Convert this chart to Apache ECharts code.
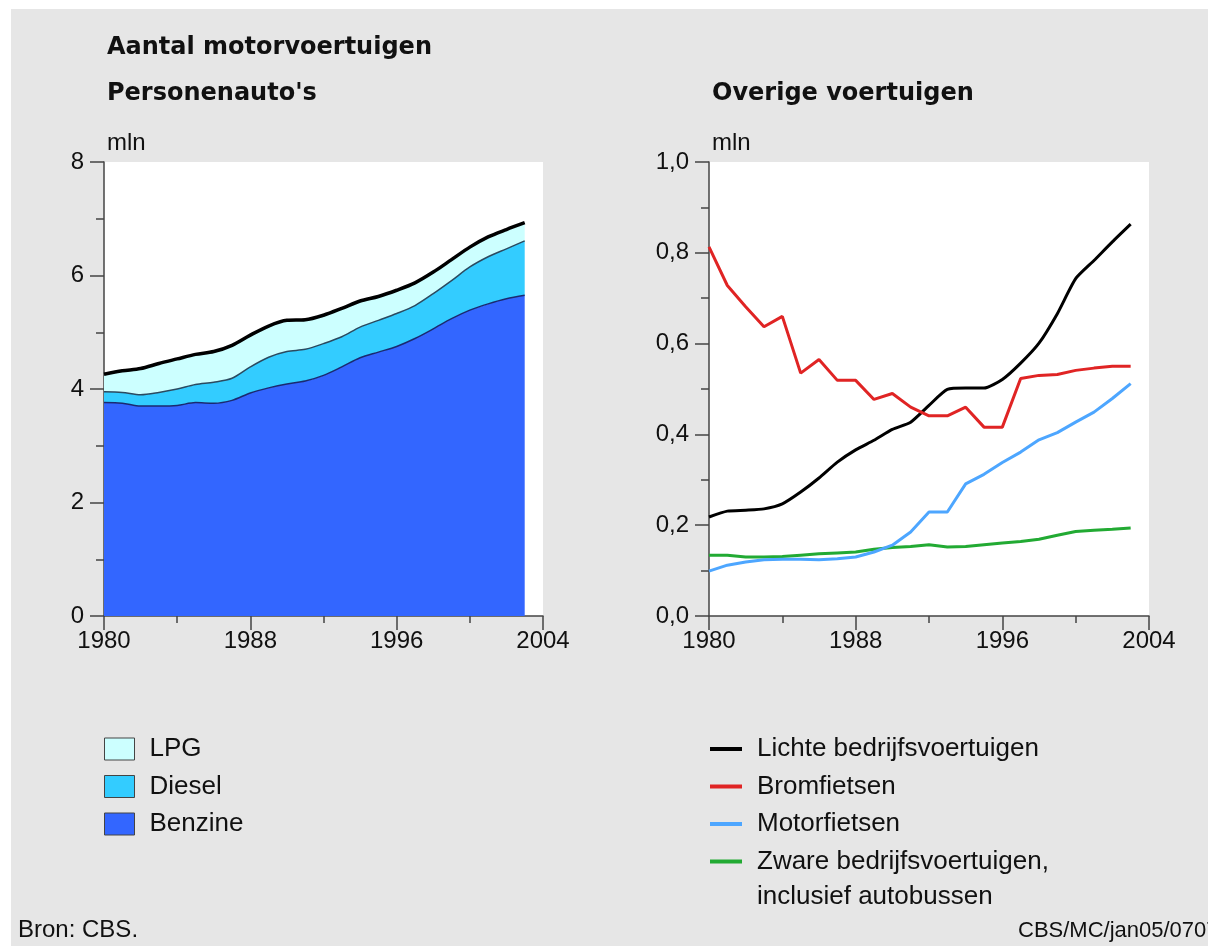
<!DOCTYPE html>
<html>
<head>
<meta charset="utf-8">
<script src="https://cdn.jsdelivr.net/npm/echarts@6/dist/echarts.min.js"></script>
<style>
  html, body { margin: 0; padding: 0; background: #ffffff; }
  #chart { width: 1208px; height: 946px; }
</style>
</head>
<body>
<div id="chart"></div>
<script>
// ---- Data ----
const years = [1980, 1981, 1982, 1983, 1984, 1985, 1986, 1987, 1988, 1989, 1990, 1991,
               1992, 1993, 1994, 1995, 1996, 1997, 1998, 1999, 2000, 2001, 2002, 2003];
// axis categories (the axis runs one year past the data, to 2004)
const axisYears = ['1980', '1981', '1982', '1983', '1984', '1985', '1986', '1987', '1988', '1989',
                   '1990', '1991', '1992', '1993', '1994', '1995', '1996', '1997', '1998', '1999',
                   '2000', '2001', '2002', '2003', '2004'];

// Personenauto's (mln), stacked
const benzine = [3.76, 3.75, 3.70, 3.70, 3.71, 3.76, 3.75, 3.80, 3.93, 4.02, 4.09, 4.14,
                 4.24, 4.39, 4.55, 4.65, 4.75, 4.89, 5.06, 5.24, 5.39, 5.50, 5.59, 5.65];
const diesel  = [0.19, 0.19, 0.20, 0.24, 0.29, 0.32, 0.37, 0.39, 0.46, 0.54, 0.57, 0.56,
                 0.56, 0.53, 0.54, 0.56, 0.58, 0.58, 0.62, 0.67, 0.76, 0.83, 0.88, 0.96];
const lpg     = [0.31, 0.38, 0.46, 0.51, 0.53, 0.53, 0.54, 0.58, 0.56, 0.55, 0.55, 0.52,
                 0.50, 0.50, 0.46, 0.42, 0.41, 0.40, 0.38, 0.37, 0.35, 0.35, 0.34, 0.32];

// Overige voertuigen (mln)
const lichte = [0.218, 0.231, 0.233, 0.236, 0.247, 0.273, 0.304, 0.339, 0.366, 0.387, 0.411, 0.427,
                0.464, 0.499, 0.502, 0.502, 0.521, 0.557, 0.601, 0.666, 0.743, 0.783, 0.824, 0.863];
const brom   = [0.813, 0.728, 0.681, 0.637, 0.660, 0.535, 0.565, 0.519, 0.519, 0.477, 0.490, 0.460,
                0.441, 0.441, 0.460, 0.416, 0.416, 0.523, 0.530, 0.532, 0.541, 0.546, 0.550, 0.550];
const motor  = [0.099, 0.112, 0.119, 0.124, 0.125, 0.125, 0.124, 0.126, 0.130, 0.141, 0.156, 0.185,
                0.229, 0.229, 0.291, 0.312, 0.338, 0.361, 0.388, 0.404, 0.427, 0.449, 0.479, 0.512];
const zware  = [0.134, 0.134, 0.130, 0.130, 0.131, 0.134, 0.137, 0.139, 0.141, 0.147, 0.151, 0.153,
                0.157, 0.152, 0.153, 0.157, 0.161, 0.164, 0.169, 0.178, 0.186, 0.189, 0.191, 0.194];

// Tick labels
const xTickLabels = ['1980', '1988', '1996', '2004'];

// Names
const nameBenzine = 'Benzine', nameDiesel = 'Diesel', nameLpg = 'LPG';
const nameLichte = 'Lichte bedrijfsvoertuigen';
const nameBrom = 'Bromfietsen';
const nameMotor = 'Motorfietsen';
const nameZware = 'Zware bedrijfsvoertuigen, inclusief autobussen';

// ---- Chart ----
const pairs = arr => years.map((y, i) => [y, arr[i]]);
const REG = 'Liberation Sans, Arial, sans-serif';
const BOLD = 'DejaVu Sans, sans-serif';
const AX = '#444';

const chart = echarts.init(document.getElementById('chart'), null, { renderer: 'canvas' });

// left chart: category axis of years (minor ticks every 4 years)
const leftYearAxis = {
  type: 'category', gridIndex: 0, data: axisYears, boundaryGap: false,
  axisLine: { show: true, onZero: false, lineStyle: { color: AX, width: 1.5 } },
  axisTick: { show: true, length: 7, interval: 3, lineStyle: { color: AX, width: 1.5 } },
  axisLabel: { show: false },
  splitLine: { show: false }
};
// right chart: value axis of years (minor ticks every 4 years)
const rightYearAxis = {
  type: 'value', gridIndex: 1, min: 1980, max: 2004, interval: 4,
  axisLine: { show: true, onZero: false, lineStyle: { color: AX, width: 1.5 } },
  axisTick: { show: true, length: 7, lineStyle: { color: AX, width: 1.5 } },
  axisLabel: { show: false },
  splitLine: { show: false }
};
function catX(gridIndex) {
  return {
    type: 'category', gridIndex: gridIndex, position: 'bottom', data: xTickLabels, boundaryGap: false,
    axisLine: { show: false },
    axisTick: { show: true, length: 14, alignWithLabel: true, lineStyle: { color: AX, width: 1.5 } },
    axisLabel: { show: true, margin: 13, fontFamily: REG, fontSize: 24, color: '#111', interval: 0 },
    splitLine: { show: false }
  };
}
function yAx(gridIndex, max, interval, fmt) {
  return {
    type: 'value', gridIndex: gridIndex, min: 0, max: max, interval: interval,
    axisLine: { show: true, lineStyle: { color: AX, width: 1.5 } },
    axisTick: { show: true, length: 14, lineStyle: { color: AX, width: 1.5 } },
    minorTick: { show: true, splitNumber: 2, length: 8, lineStyle: { color: AX, width: 1.5 } },
    axisLabel: { margin: 20, fontFamily: REG, fontSize: 24, color: '#111', formatter: fmt },
    splitLine: { show: false },
    minorSplitLine: { show: false }
  };
}

const legendText = { fontFamily: REG, fontSize: 26, color: '#111', lineHeight: 30, padding: [0, 0, 0, 10] };

const option = {
  animation: false,
  backgroundColor: '#ffffff',
  graphic: [
    { type: 'rect', z: -10, silent: true, shape: { x: 11, y: 9, width: 1197, height: 937 }, style: { fill: '#e6e6e6' } },
    { type: 'text', x: 107, y: 48, style: { text: 'Aantal motorvoertuigen', font: 'bold 24px ' + BOLD, fill: '#111', verticalAlign: 'middle' } },
    { type: 'text', x: 107, y: 94, style: { text: "Personenauto's", font: 'bold 24px ' + BOLD, fill: '#111', verticalAlign: 'middle' } },
    { type: 'text', x: 712, y: 94, style: { text: 'Overige voertuigen', font: 'bold 24px ' + BOLD, fill: '#111', verticalAlign: 'middle' } },
    { type: 'text', x: 107, y: 143, style: { text: 'mln', font: '24px ' + REG, fill: '#111', verticalAlign: 'middle' } },
    { type: 'text', x: 712, y: 143, style: { text: 'mln', font: '24px ' + REG, fill: '#111', verticalAlign: 'middle' } },
    { type: 'text', x: 757, y: 897, style: { text: 'inclusief autobussen', font: '26px ' + REG, fill: '#111', verticalAlign: 'middle' } },
    { type: 'text', x: 18, y: 930, style: { text: 'Bron: CBS.', font: '24px ' + REG, fill: '#111', verticalAlign: 'middle' } },
    { type: 'text', x: 1018, y: 931, style: { text: 'CBS/MC/jan05/0707', font: '22px ' + REG, fill: '#111', verticalAlign: 'middle' } }
  ],
  grid: [
    { left: 104, top: 162, width: 439, height: 454, show: true, backgroundColor: '#ffffff', borderWidth: 0, containLabel: false },
    { left: 709, top: 162, width: 440, height: 454, show: true, backgroundColor: '#ffffff', borderWidth: 0, containLabel: false }
  ],
  xAxis: [leftYearAxis, catX(0), rightYearAxis, catX(1)],
  yAxis: [
    yAx(0, 8, 2, v => String(v)),
    yAx(1, 1, 0.2, v => v.toFixed(1).replace('.', ','))
  ],
  legend: [
    {
      orient: 'vertical', left: 104, top: 734, padding: 0, itemWidth: 30, itemHeight: 22, itemGap: 7.5,
      selectedMode: false, textStyle: legendText,
      data: [
        { name: nameLpg, icon: 'rect', itemStyle: { color: '#ccffff', borderColor: '#444', borderWidth: 1 } },
        { name: nameDiesel, icon: 'rect', itemStyle: { color: '#33ccff', borderColor: '#444', borderWidth: 1 } },
        { name: nameBenzine, icon: 'rect', itemStyle: { color: '#3366ff', borderColor: '#444', borderWidth: 1 } }
      ]
    },
    {
      orient: 'vertical', left: 710, top: 734, padding: 0, itemWidth: 32, itemHeight: 4, itemGap: 7.5,
      selectedMode: false, textStyle: legendText,
      formatter: n => (n === nameZware ? 'Zware bedrijfsvoertuigen,' : n),
      data: [
        { name: nameLichte, icon: 'rect', itemStyle: { color: '#000000' } },
        { name: nameBrom, icon: 'rect', itemStyle: { color: '#e02424' } },
        { name: nameMotor, icon: 'rect', itemStyle: { color: '#4da6ff' } },
        { name: nameZware, icon: 'rect', itemStyle: { color: '#22aa33' } }
      ]
    }
  ],
  series: [
    {
      name: nameBenzine, type: 'line', xAxisIndex: 0, yAxisIndex: 0, stack: 'pa', smooth: 0.3,
      symbol: 'none', data: benzine, color: '#3366ff',
      lineStyle: { color: '#1a2a70', width: 1.5 },
      areaStyle: { color: '#3366ff', opacity: 1 }
    },
    {
      name: nameDiesel, type: 'line', xAxisIndex: 0, yAxisIndex: 0, stack: 'pa', smooth: 0.3,
      symbol: 'none', data: diesel, color: '#33ccff',
      lineStyle: { color: '#2a4a60', width: 1.5 },
      areaStyle: { color: '#33ccff', opacity: 1 }
    },
    {
      name: nameLpg, type: 'line', xAxisIndex: 0, yAxisIndex: 0, stack: 'pa', smooth: 0.3,
      symbol: 'none', data: lpg, color: '#ccffff',
      lineStyle: { color: '#000000', width: 3.5 },
      areaStyle: { color: '#ccffff', opacity: 1 }
    },
    {
      name: nameZware, type: 'line', xAxisIndex: 2, yAxisIndex: 1, symbol: 'none',
      data: pairs(zware), color: '#22aa33', lineStyle: { color: '#22aa33', width: 3 }
    },
    {
      name: nameMotor, type: 'line', xAxisIndex: 2, yAxisIndex: 1, symbol: 'none',
      data: pairs(motor), color: '#4da6ff', lineStyle: { color: '#4da6ff', width: 3 }
    },
    {
      name: nameLichte, type: 'line', xAxisIndex: 2, yAxisIndex: 1, symbol: 'none', smooth: 0.2,
      data: pairs(lichte), color: '#000000', lineStyle: { color: '#000000', width: 3 }
    },
    {
      name: nameBrom, type: 'line', xAxisIndex: 2, yAxisIndex: 1, symbol: 'none',
      data: pairs(brom), color: '#e02424', lineStyle: { color: '#e02424', width: 3 }
    }
  ]
};
chart.setOption(option);
</script>
</body>
</html>
